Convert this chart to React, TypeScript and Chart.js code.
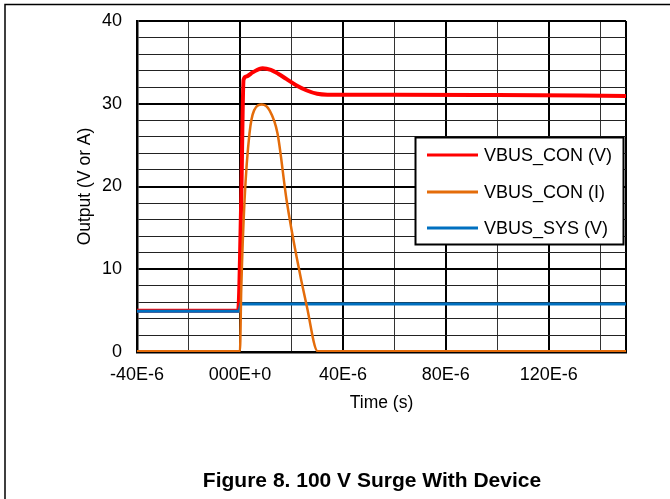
import React, { useEffect, useRef } from 'react';
import { Chart, registerables } from 'chart.js';

Chart.register(...registerables);

// Time values in microseconds (axis labels shown in seconds notation)
const conVTime = [-40, -0.7, 0.5, 1.4, 2.5, 5, 8.8, 12, 15, 18, 22, 26, 30, 34, 60, 100, 150];
const conVValues = [4.98, 4.98, 18.4, 32.9, 33.3, 33.8, 34.3, 34.1, 33.6, 33.0, 32.2, 31.6, 31.2, 31.1, 31.1, 31.05, 30.95];

const conITime = [-40, 0, 0.5, 1.8, 3.7, 5.5, 8.5, 11.5, 14.6, 18.1, 22, 26, 30.2, 150];
const conIValues = [0.1, 0.1, 7.5, 18.4, 26.4, 29.2, 29.9, 29.2, 26.4, 18.4, 11.5, 5.5, 0.1, 0.1];

const sysTime = [-40, -0.3, 0.3, 150];
const sysValues = [4.93, 4.93, 5.8, 5.8];

const seriesNames = ['VBUS_CON (V)', 'VBUS_CON (I)', 'VBUS_SYS (V)'];
const seriesColors = ['#FF0000', '#E46C0A', '#0070C0'];

const xTickValues = [-40, -20, 0, 20, 40, 60, 80, 100, 120, 140, 150];
const xTickLabels: Record<string, string> = {
  '-40': '-40E-6',
  '0': '000E+0',
  '40': '40E-6',
  '80': '80E-6',
  '120': '120E-6',
};
const yTickValues = [0, 2, 4, 6, 8, 10, 12, 14, 16, 18, 20, 22, 24, 26, 28, 30, 32, 34, 36, 38, 40];
const yTickLabels = [0, 10, 20, 30, 40];

const xTitle = 'Time (s)';
const yTitle = 'Output (V or A)';
const figureTitle = 'Figure 8. 100 V Surge With Device';

const FONT = '"Liberation Sans", Arial, Helvetica, sans-serif';

const toPoints = (t: number[], v: number[]) => t.map((x, i) => ({ x, y: v[i] }));

const decorPlugin = {
  id: 'decor',
  afterDraw(chart: any) {
    const ctx = chart.ctx;
    ctx.save();
    // page frame
    ctx.strokeStyle = '#000';
    ctx.lineWidth = 1.5;
    ctx.beginPath();
    ctx.moveTo(5, 499);
    ctx.lineTo(5, 4.5);
    ctx.lineTo(670, 4.5);
    ctx.stroke();

    // legend box
    const bx = 415.5, by = 137.5, bw = 208, bh = 107;
    ctx.fillStyle = '#fff';
    ctx.fillRect(bx, by, bw, bh);
    ctx.lineWidth = 2;
    ctx.strokeStyle = '#000';
    ctx.strokeRect(bx, by, bw, bh);
    const rows = [155, 192, 228];
    ctx.font = `18px ${FONT}`;
    ctx.textBaseline = 'middle';
    ctx.textAlign = 'left';
    chart.data.datasets.forEach((ds: any, i: number) => {
      ctx.strokeStyle = ds.borderColor;
      ctx.lineWidth = 3;
      ctx.beginPath();
      ctx.moveTo(427, rows[i]);
      ctx.lineTo(478, rows[i]);
      ctx.stroke();
      ctx.fillStyle = '#000';
      ctx.fillText(ds.label, 484, rows[i] + 1);
    });

    // figure caption
    ctx.font = `bold 21px ${FONT}`;
    ctx.textAlign = 'center';
    ctx.fillStyle = '#000';
    ctx.fillText(figureTitle, 372, 481);
    ctx.restore();
  },
};

export default function App() {
  const canvasRef = useRef<HTMLCanvasElement | null>(null);

  useEffect(() => {
    if (!canvasRef.current) return;
    Chart.defaults.font.family = FONT;
    const chart = new Chart(canvasRef.current, {
      type: 'line',
      data: {
        datasets: [
          {
            label: seriesNames[0],
            data: toPoints(conVTime, conVValues),
            borderColor: seriesColors[0],
            backgroundColor: seriesColors[0],
            borderWidth: 4,
            pointRadius: 0,
            cubicInterpolationMode: 'monotone',
            order: 3,
          },
          {
            label: seriesNames[1],
            data: toPoints(conITime, conIValues),
            borderColor: seriesColors[1],
            backgroundColor: seriesColors[1],
            borderWidth: 2.5,
            pointRadius: 0,
            cubicInterpolationMode: 'monotone',
            order: 1,
          },
          {
            label: seriesNames[2],
            data: toPoints(sysTime, sysValues),
            borderColor: seriesColors[2],
            backgroundColor: seriesColors[2],
            borderWidth: 3,
            pointRadius: 0,
            tension: 0,
            order: 2,
          },
        ],
      },
      options: {
        animation: false,
        responsive: true,
        maintainAspectRatio: false,
        layout: { padding: { top: 21, right: 44, bottom: 77, left: 0 } },
        plugins: {
          legend: { display: false },
          tooltip: { enabled: false },
          title: { display: false },
        },
        scales: {
          x: {
            type: 'linear',
            min: -40,
            max: 150,
            afterBuildTicks: (axis: any) => {
              axis.ticks = xTickValues.map((v) => ({ value: v }));
            },
            afterFit: (axis: any) => {
              axis.height = 70;
              axis.paddingLeft = 0;
              axis.paddingRight = 0;
            },
            ticks: {
              autoSkip: false,
              maxRotation: 0,
              padding: 12,
              color: '#000',
              font: { size: 18 },
              callback: (v: any) => xTickLabels[String(v)] ?? '',
            },
            grid: {
              drawTicks: false,
              color: (c: any) => (c.tick && (c.tick.value % 40 === 0 || c.tick.value === 150) ? '#000' : '#333'),
              lineWidth: (c: any) => (c.tick && (c.tick.value % 40 === 0 || c.tick.value === 150) ? 2 : 1),
            },
            border: { display: true, color: '#000', width: 2.5 },
            title: {
              display: true,
              text: xTitle,
              color: '#000',
              font: { size: 17.5 },
              padding: { top: 0, bottom: 8 },
            },
          },
          y: {
            type: 'linear',
            min: 0,
            max: 40,
            afterBuildTicks: (axis: any) => {
              axis.ticks = yTickValues.map((v) => ({ value: v }));
            },
            afterFit: (axis: any) => {
              axis.width = 137;
              axis.paddingTop = 0;
              axis.paddingBottom = 0;
            },
            ticks: {
              autoSkip: false,
              padding: 15,
              color: '#000',
              font: { size: 18 },
              callback: (v: any) => (yTickLabels.includes(Number(v)) ? String(v) : ''),
            },
            grid: {
              drawTicks: false,
              color: (c: any) => (c.tick && c.tick.value % 10 === 0 ? '#000' : '#222'),
              lineWidth: (c: any) => (c.tick && c.tick.value % 10 === 0 ? 2 : 1),
            },
            border: { display: true, color: '#000', width: 2.5 },
            title: {
              display: true,
              text: yTitle,
              color: '#000',
              font: { size: 17.5 },
              padding: { top: 74.5, bottom: 0 },
            },
          },
        },
      },
      plugins: [decorPlugin],
    } as any);
    return () => chart.destroy();
  }, []);

  return (
    <div style={{ position: 'fixed', left: 0, top: 0, width: 670, height: 499, background: '#fff' }}>
      <canvas ref={canvasRef} />
    </div>
  );
}
